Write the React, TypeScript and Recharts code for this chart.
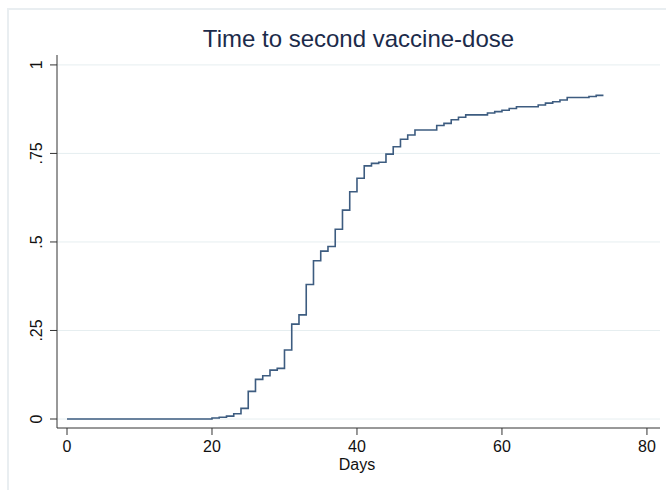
import { LineChart, Line, XAxis, YAxis, CartesianGrid } from "recharts";

// step points (day, cumulative share with second dose)
const days = [
  0, 20, 21, 22, 23, 24, 25, 26, 27, 28, 29, 30, 31, 32, 33, 34, 35, 36, 37, 38,
  39, 40, 41, 42, 43, 44, 45, 46, 47, 48, 51, 52, 53, 54, 55, 58, 59, 60, 61,
  62, 65, 66, 67, 68, 69, 72, 73, 74,
];
const share = [
  0, 0.003, 0.005, 0.008, 0.015, 0.03, 0.078, 0.112, 0.122, 0.138, 0.143, 0.195,
  0.268, 0.294, 0.38, 0.447, 0.474, 0.487, 0.536, 0.59, 0.642, 0.68, 0.715,
  0.722, 0.725, 0.748, 0.769, 0.79, 0.802, 0.816, 0.829, 0.835, 0.845, 0.852,
  0.859, 0.864, 0.868, 0.872, 0.877, 0.882, 0.887, 0.892, 0.896, 0.901, 0.908,
  0.911, 0.914, 0.914,
];
const xTicks = [0, 20, 40, 60, 80];
const yTicks = [0, 0.25, 0.5, 0.75, 1];
const yLabels = ["0", ".25", ".5", ".75", "1"];

const data = days.map((d, i) => ({ day: d, share: share[i] }));

const FONT = "'Liberation Sans', Arial, sans-serif";

function YTick(props: any) {
  const { x, y, payload } = props;
  const idx = yTicks.indexOf(payload.value);
  return (
    <text
      transform={`translate(${x - 6},${y}) rotate(-90)`}
      textAnchor="middle"
      fontSize={16}
      fontFamily={FONT}
      fill="#111"
    >
      {idx >= 0 ? yLabels[idx] : payload.value}
    </text>
  );
}

export default function App() {
  return (
    <div
      style={{
        position: "absolute",
        left: 0,
        top: 0,
        width: 666,
        height: 490,
        background: "#fff",
        overflow: "hidden",
        fontFamily: FONT,
      }}
    >
      <div
        style={{
          position: "absolute",
          left: 7,
          top: 8,
          width: 680,
          height: 500,
          borderTop: "2px solid #e9eef1",
          borderLeft: "2px solid #e9eef1",
        }}
      />
      <div
        style={{
          position: "absolute",
          left: 0,
          width: 717,
          top: 25,
          textAlign: "center",
          fontSize: 24,
          color: "#1c2b4a",
          lineHeight: "28px",
        }}
      >
        Time to second vaccine-dose
      </div>
      <div
        style={{
          position: "absolute",
          left: 0,
          width: 714,
          top: 455,
          textAlign: "center",
          fontSize: 16,
          color: "#111",
          lineHeight: "20px",
        }}
      >
        Days
      </div>
      <div style={{ position: "absolute", left: 0, top: 0 }}>
        <LineChart
          width={666}
          height={490}
          data={data}
          margin={{ top: 55, right: 6, bottom: 0, left: 0 }}
        >
          <CartesianGrid
            vertical={false}
            stroke="#e6eef0"
            horizontalValues={yTicks}
          />
          <XAxis
            dataKey="day"
            type="number"
            domain={[-1.38, 81.8]}
            ticks={xTicks}
            allowDataOverflow
            height={62}
            tickSize={7}
            tickMargin={6}
            stroke="#333"
            tick={{ fill: "#111", fontSize: 16, fontFamily: FONT }}
          />
          <YAxis
            type="number"
            domain={[-0.0254, 1.028]}
            ticks={yTicks}
            allowDataOverflow
            width={57}
            tickSize={7}
            tickMargin={2}
            stroke="#333"
            tick={<YTick />}
          />
          <Line
            type="stepAfter"
            dataKey="share"
            stroke="#3d5c80"
            strokeWidth={1.6}
            dot={false}
            isAnimationActive={false}
          />
        </LineChart>
      </div>
    </div>
  );
}
